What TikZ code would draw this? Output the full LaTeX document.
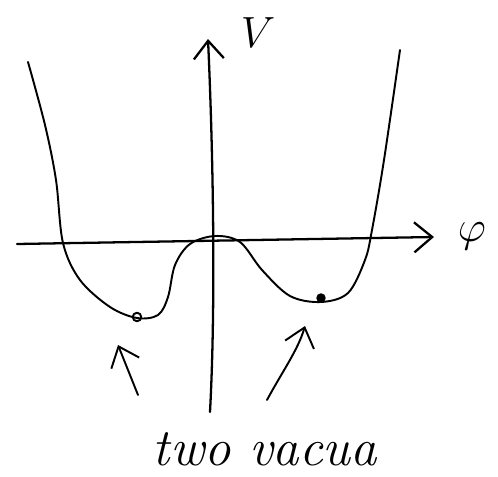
\documentclass[tikz,border=0pt]{standalone}
\usepackage{amsmath}
\usetikzlibrary{arrows.meta}
\begin{document}
\begin{tikzpicture}[x=0.02cm,y=-0.02cm,line cap=round,line join=round,>={Straight Barb[length=0.36cm,width=0.6cm]}]
\useasboundingbox (0,0) rectangle (498,477);
% axes
\coordinate (phistart) at (17,244);
\coordinate (phiend) at (434,237);
\coordinate (vstart) at (210,412);
\coordinate (vend) at (208,39);
\draw[->, line width=1.3pt] (phistart) -- (phiend);
\draw[->, line width=1.3pt] (vstart) .. controls (216,300) and (213,150) .. (vend);
\node[font=\fontsize{26}{30}\selectfont] (phi) at (472,236) {$\varphi$};
\node[font=\fontsize{26}{30}\selectfont] (V) at (258,33) {$V$};
% potential
\draw[line width=1.1pt] plot[smooth, tension=0.55] coordinates {(28,62) (45,125) (56,180) (63,243) (80,280) (110,307) (137,318) (158,315) (168,297) (175,265) (190,244) (215,236) (240,242) (262,270) (290,296) (321,302) (348,293) (365,260) (372,230) (384,160) (400,50)};
% the two minima
\node[circle, draw, line width=1.1pt, inner sep=0pt, minimum size=0.17cm] (vacL) at (137,317) {};
\node[circle, fill, inner sep=0pt, minimum size=0.19cm] (vacR) at (321,298) {};
% label and arrows
\node[font=\fontsize{30}{34}\selectfont\itshape] (label) at (265,449) {two vacua};
\coordinate (tailL) at (138,395);
\coordinate (headL) at (118,345);
\coordinate (tailR) at (267,400);
\coordinate (headR) at (305,326);
\draw[->, line width=1.1pt] (tailL) -- (headL);
\draw[->, line width=1.1pt] (tailR) .. controls (282,372) and (298,350) .. (headR);
\end{tikzpicture}
\end{document}
